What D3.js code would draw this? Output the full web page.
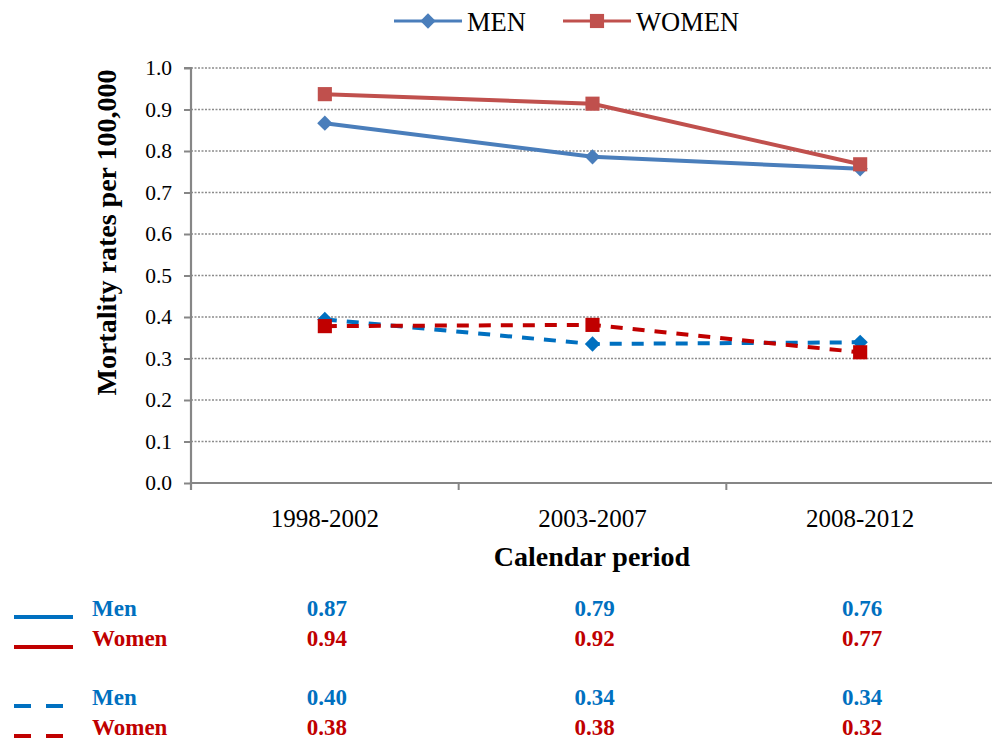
<!DOCTYPE html>
<html>
<head>
<meta charset="utf-8">
<script src="https://cdn.jsdelivr.net/npm/d3@7"></script>
<style>
  body { margin: 0; background: #fff; }
  text { font-family: "Liberation Serif", "Times New Roman", serif; }
</style>
</head>
<body>
<div id="chart"></div>
<script>
// Datos
const periods = ["1998-2002", "2003-2007", "2008-2012"];
const yTicks = [0, 0.1, 0.2, 0.3, 0.4, 0.5, 0.6, 0.7, 0.8, 0.9, 1.0];
const menSolid = [0.867, 0.786, 0.757];
const womenSolid = [0.937, 0.914, 0.768];
const menDashed = [0.394, 0.335, 0.339];
const womenDashed = [0.378, 0.381, 0.315];
const tableRows = [
  { name: "Men", dashed: false, values: ["0.87", "0.79", "0.76"], color: "#0070c0" },
  { name: "Women", dashed: false, values: ["0.94", "0.92", "0.77"], color: "#c00000" },
  { name: "Men", dashed: true, values: ["0.40", "0.34", "0.34"], color: "#0070c0" },
  { name: "Women", dashed: true, values: ["0.38", "0.38", "0.32"], color: "#c00000" }
];

const svgWidth = 992;
const svgHeight = 738;
const margin = { top: 68, left: 191, right: 994, bottom: 483 };

const svg = d3.select("#chart")
  .append("svg")
  .attr("width", svgWidth)
  .attr("height", svgHeight);

const x = d3.scaleBand()
  .domain(periods)
  .range([margin.left, margin.right])
  .padding(0);

const y = d3.scaleLinear()
  .domain([0, 1])
  .range([margin.bottom, margin.top]);

const cx = d => x(d) + x.bandwidth() / 2;

// Rejilla
svg.append("g")
  .selectAll("line")
  .data(yTicks.slice(1))
  .enter().append("line")
  .attr("x1", margin.left)
  .attr("x2", margin.right)
  .attr("y1", d => y(d))
  .attr("y2", d => y(d))
  .attr("stroke", "#8c8c8c")
  .attr("stroke-width", 1.3)
  .attr("stroke-dasharray", "2,1.5");

// Ejes
const yAxis = svg.append("g")
  .attr("transform", `translate(${margin.left},0)`)
  .call(d3.axisLeft(y).tickValues(yTicks).tickFormat(d3.format(".1f")).tickSize(7).tickPadding(12));

const xAxis = svg.append("g")
  .attr("transform", `translate(0,${margin.bottom})`)
  .call(d3.axisBottom(x).tickSize(0));

xAxis.selectAll(".tick")
  .append("line")
  .attr("x1", x.bandwidth() / 2)
  .attr("x2", x.bandwidth() / 2)
  .attr("y1", 0)
  .attr("y2", 7)
  .attr("stroke", "#868686")
  .attr("stroke-width", 2);

[yAxis, xAxis].forEach(a => {
  a.select(".domain").attr("stroke", "#868686").attr("stroke-width", 2.2);
  a.selectAll(".tick line").attr("stroke", "#868686").attr("stroke-width", 2);
  a.selectAll("text")
    .attr("fill", "#000")
    .attr("font-family", "Liberation Serif, Times New Roman, serif");
});
yAxis.selectAll("text").attr("font-size", 21.5);
xAxis.selectAll("text").attr("font-size", 25).attr("dy", null).attr("y", 44);
yAxis.select(".domain").attr("d", `M-7,${margin.top}H0V${margin.bottom}`);
xAxis.select(".domain").attr("d", `M${margin.left},0V7V0H${margin.right}V7`);

// Titulos
svg.append("text")
  .attr("transform", `translate(116,${(margin.top + margin.bottom) / 2 - 43}) rotate(-90)`)
  .attr("text-anchor", "middle")
  .attr("font-size", 28)
  .attr("font-weight", "bold")
  .text("Mortality rates per 100,000");

svg.append("text")
  .attr("x", 592)
  .attr("y", 566)
  .attr("text-anchor", "middle")
  .attr("font-size", 28)
  .attr("font-weight", "bold")
  .text("Calendar period");

// Series
const series = [
  { values: menSolid, color: "#4a7ebb", dash: null, marker: "diamond" },
  { values: womenSolid, color: "#c0504d", dash: null, marker: "square" },
  { values: menDashed, color: "#0070c0", dash: "12,10", marker: "diamond" },
  { values: womenDashed, color: "#c00000", dash: "12,10", marker: "square" }
];

const line = d3.line()
  .x((d, i) => cx(periods[i]))
  .y(d => y(d));

const symDiamond = d3.symbol().type(d3.symbolDiamond2).size(150);
const symSquare = d3.symbol().type(d3.symbolSquare).size(200);

series.forEach(s => {
  svg.append("path")
    .datum(s.values)
    .attr("d", line)
    .attr("fill", "none")
    .attr("stroke", s.color)
    .attr("stroke-width", 4)
    .attr("stroke-dasharray", s.dash);

  svg.selectAll(null)
    .data(s.values)
    .enter().append("path")
    .attr("transform", (d, i) => `translate(${cx(periods[i])},${y(d)})`)
    .attr("d", s.marker === "diamond" ? symDiamond : symSquare)
    .attr("fill", s.color);
});

// Leyenda
const legendItems = [
  { label: "MEN", color: "#4a7ebb", marker: "diamond", x: 394 },
  { label: "WOMEN", color: "#c0504d", marker: "square", x: 563 }
];

const legend = svg.append("g")
  .selectAll("g")
  .data(legendItems)
  .enter().append("g")
  .attr("transform", d => `translate(${d.x},21)`);

legend.append("line")
  .attr("x1", 0)
  .attr("x2", 68)
  .attr("stroke", d => d.color)
  .attr("stroke-width", 3);

legend.append("path")
  .attr("transform", "translate(34,0)")
  .attr("d", d => d.marker === "diamond" ? symDiamond() : symSquare())
  .attr("fill", d => d.color);

legend.append("text")
  .attr("x", 73)
  .attr("y", 10)
  .attr("font-size", 26.5)
  .text(d => d.label);

// Tabla
const rowY = [609, 639, 698, 728];
const rows = svg.append("g")
  .selectAll("g")
  .data(tableRows)
  .enter().append("g")
  .attr("transform", (d, i) => `translate(0,${rowY[i]})`);

rows.append("line")
  .attr("x1", 14)
  .attr("x2", 73)
  .attr("y1", 8)
  .attr("y2", 8)
  .attr("stroke", d => d.color)
  .attr("stroke-width", 4)
  .attr("stroke-dasharray", d => d.dashed ? "17,15" : null);

rows.append("text")
  .attr("x", 92)
  .attr("y", 7)
  .attr("font-size", 23)
  .attr("font-weight", "bold")
  .attr("fill", d => d.color)
  .text(d => d.name);

rows.selectAll(".val")
  .data(d => d.values.map((v, i) => ({ v, p: periods[i], color: d.color })))
  .enter().append("text")
  .attr("class", "val")
  .attr("x", d => cx(d.p) + 2)
  .attr("y", 7)
  .attr("text-anchor", "middle")
  .attr("font-size", 23)
  .attr("font-weight", "bold")
  .attr("fill", d => d.color)
  .text(d => d.v);
</script>
</body>
</html>
